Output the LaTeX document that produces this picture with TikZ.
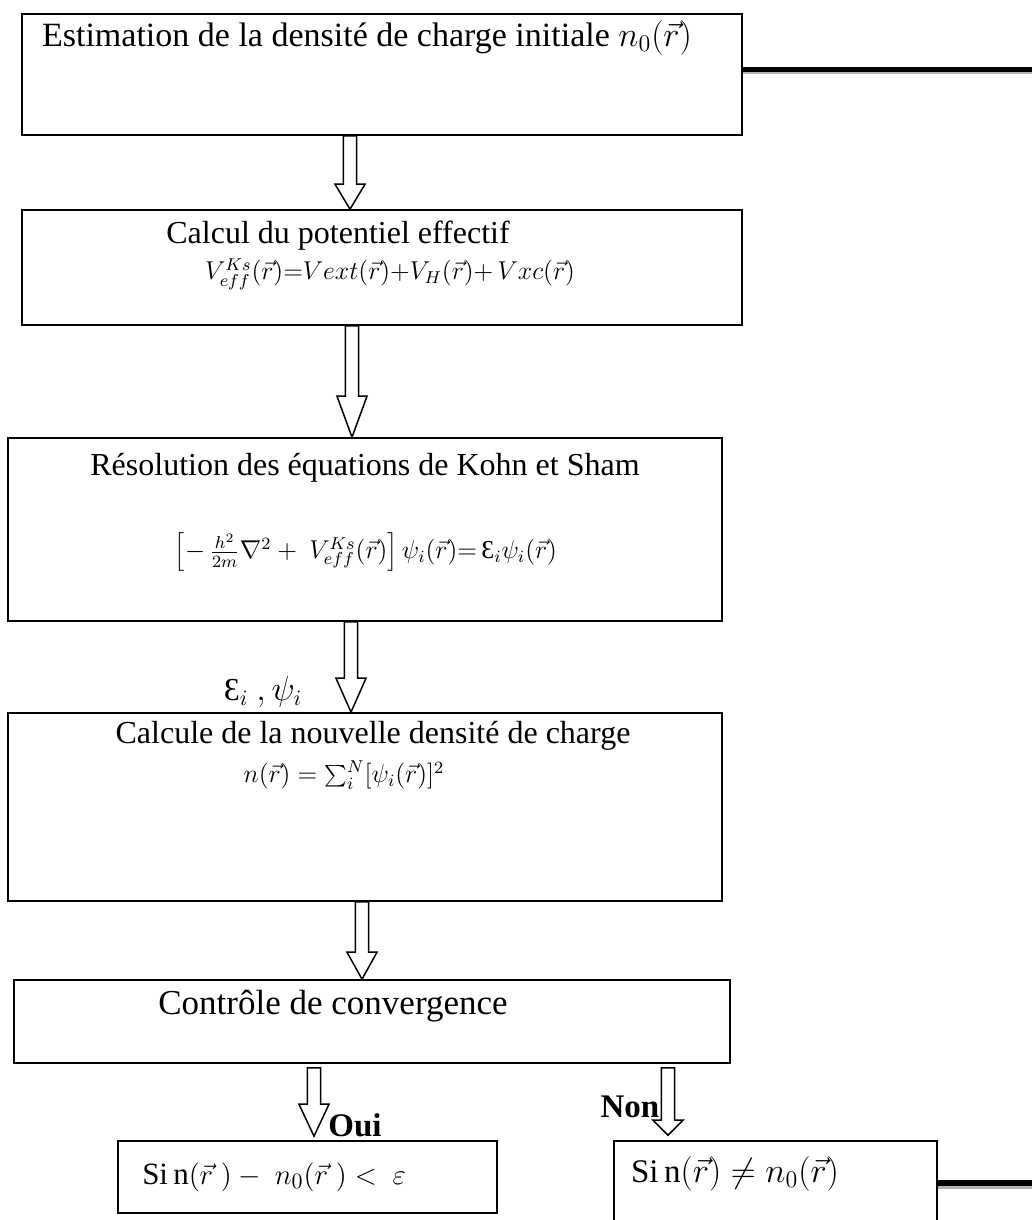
\documentclass[tikz,border=0pt]{standalone}
\usepackage{graphicx}
\usepackage{fontspec}
\setmainfont{Liberation Serif}
\usetikzlibrary{calc}
\tikzset{
  box/.style={draw, line width=0.8pt, inner sep=0pt},
  hollow/.style={draw, line width=0.75pt, fill=white, to path={let \p1=(\tikztostart), \p2=(\tikztotarget) in
    (\x1-3.3pt,\y1) -- (\x1-3.3pt,\y2+#1) -- (\x1-7.5pt,\y2+#1) -- (\x1,\y2)
    -- (\x1+7.5pt,\y2+#1) -- (\x1+3.3pt,\y2+#1) -- (\x1+3.3pt,\y1) -- cycle}},
  hollow/.default=15pt,
  feedback/.style={line width=2.8pt},
  fbshadow/.style={line width=1.8pt, gray!60},
  txt/.style={inner sep=0pt, font=\fontsize{16}{18}\selectfont},
  eq/.style={inner sep=0pt, font=\fontsize{12}{14}\selectfont},
  answer/.style={inner sep=0pt, font=\fontsize{16.5}{18}\selectfont\bfseries}
}
\newcommand{\eqscale}[1]{\scalebox{1.075}{#1}}
\begin{document}
\begin{tikzpicture}[x=0.5pt, y=-0.5pt]
    \clip (0,0) rectangle (1032,1220);
    % boxes
    \node[box, minimum width=360pt, minimum height=60.5pt] (init) at (382,74.5) {};
    \node[box, minimum width=360pt, minimum height=57.5pt] (pot) at (382,267.5) {};
    \node[box, minimum width=357pt, minimum height=91.5pt] (ks) at (365,529.5) {};
    \node[box, minimum width=357pt, minimum height=94pt] (dens) at (365,807) {};
    \node[box, minimum width=358pt, minimum height=41.5pt] (conv) at (372,1021.5) {};
    \node[box, minimum width=189.5pt, minimum height=36pt] (oui) at (307.5,1177) {};
    \node[box, minimum width=161.5pt, minimum height=49.5pt] (non) at (775.5,1190.5) {};
    % texts
    \node[txt, font=\fontsize{17}{19}\selectfont] (tinit) at (367,38) {Estimation de la densité de charge initiale $n_0(\vec r)$};
    \node[txt] (tpot) at (338,236) {Calcul du potentiel effectif};
    \node[eq] (fpot) at (390,274) {\eqscale{$V^{Ks}_{eff}(\vec r){=}Vext(\vec r){+}V_H(\vec r){+}\,Vxc(\vec r)$}};
    \node[txt] (tks) at (365,468) {Résolution des équations de Kohn et Sham};
    \node[eq] (fks) at (366,552) {\eqscale{$\left[-\,\frac{h^2}{2m}\nabla^2+\ V^{Ks}_{eff}(\vec r)\right]\psi_i(\vec r){=}\,\mbox{Ɛ}_i\psi_i(\vec r)$}};
    \node[inner sep=0pt, font=\fontsize{16}{18}\selectfont] (lab) at (263,692) {$\mbox{Ɛ}_i\ ,\psi_i$};
    \node[txt] (tdens) at (373,736) {Calcule de la nouvelle densité de charge};
    \node[eq] (fdens) at (344,775) {\eqscale{$n(\vec r)=\sum_i^N[\psi_i(\vec r)]^2$}};
    \node[txt, font=\fontsize{17.5}{19}\selectfont] (tconv) at (333,1006) {Contrôle de convergence};
    \node[inner sep=0pt, font=\fontsize{15.5}{18}\selectfont] (toui) at (274,1177) {Si\,$\mathrm{n}(\vec r\ )-\ n_0(\vec r\ )<\ \varepsilon$};
    \node[inner sep=0pt, font=\fontsize{16.5}{18}\selectfont] (tnon) at (735,1174) {Si\,$\mathrm{n}(\vec r)\neq n_0(\vec r)$};
    \node[answer] (loui) at (355,1125) {Oui};
    \node[answer] (lnon) at (630,1107) {Non};
    % arrows
    \draw[hollow=12.5pt] ([xshift=-16pt]init.south) to (pot.north);
    \draw[hollow=20.5pt] ([xshift=-15pt]pot.south) to (ks.north);
    \draw[hollow=17pt] ([xshift=-7pt]ks.south) to (dens.north);
    \draw[hollow=13.5pt] ([xshift=-1.5pt]dens.south) to (conv.north);
    \draw[hollow=16pt] ([xshift=-29pt, yshift=-2pt]conv.south) to ([yshift=2pt]oui.north);
    \draw[hollow=7.5pt] ([xshift=148pt, yshift=-2pt]conv.south) to ([yshift=2.5pt]non.north);
    % feedback lines
    \coordinate (out1) at (1032,69.5);
    \coordinate (out2) at (1032,1183);
    \draw[fbshadow] ([yshift=-1.5pt]init.east |- out1) -- ([yshift=-1.5pt]out1);
    \draw[feedback] (init.east |- out1) -- (out1);
    \draw[fbshadow] ([yshift=-2pt]non.east |- out2) -- ([yshift=-2pt]out2);
    \draw[feedback] (non.east |- out2) -- (out2);
\end{tikzpicture}
\end{document}
